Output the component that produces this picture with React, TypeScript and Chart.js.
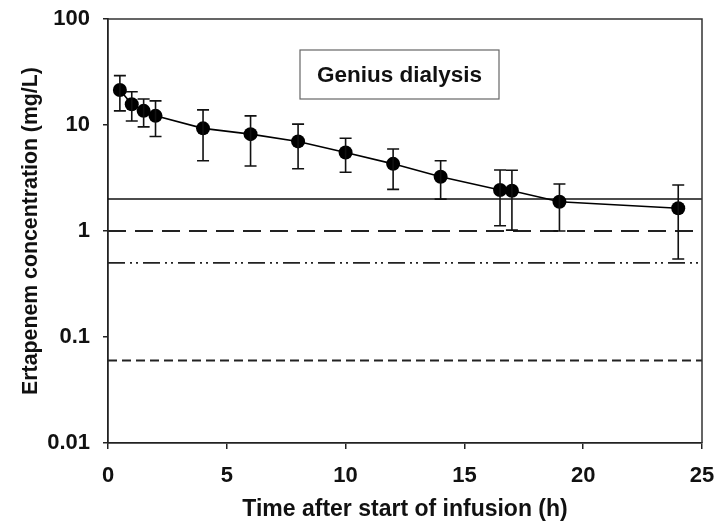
import React, { useEffect, useRef } from "react";
import { Chart, registerables } from "chart.js";

Chart.register(...registerables);

// Sampling times (h)
const timeH = [0.5, 1, 1.5, 2, 4, 6, 8, 10, 12, 14, 16.5, 17, 19, 24];
// Mean ertapenem concentration (mg/L)
const concMean = [21.4, 15.7, 13.6, 12.2, 9.3, 8.2, 7.0, 5.5, 4.3, 3.25, 2.44, 2.4, 1.89, 1.64];
// Upper / lower error bar ends (mg/L)
const concUpper = [29.2, 20.6, 17.6, 16.9, 13.9, 12.2, 10.2, 7.5, 5.94, 4.6, 3.76, 3.74, 2.78, 2.72];
const concLower = [13.6, 10.9, 9.6, 7.8, 4.6, 4.1, 3.87, 3.58, 2.47, 2.0, 1.12, 1.02, 1.0, 0.544];

// Horizontal reference levels (mg/L)
const refLevels = [2, 1, 0.5, 0.06];
const refDashes: number[][] = [[], [18, 9], [17, 5, 2, 4, 2, 5], [9, 5]];

const xTicks = [0, 5, 10, 15, 20, 25];
const yTicks = [0.01, 0.1, 1, 10, 100];
const boxLabel = "Genius dialysis";

const FONT = "'Liberation Sans', Arial, Helvetica, sans-serif";

const errorBarPlugin = {
  id: "errorBars",
  afterDatasetsDraw(chart: any) {
    const { ctx, scales } = chart;
    const x = scales.x;
    const y = scales.y;
    ctx.save();
    ctx.strokeStyle = "#111";
    ctx.lineWidth = 1.6;
    const cap = 6;
    timeH.forEach((t, i) => {
      const px = x.getPixelForValue(t);
      const top = y.getPixelForValue(concUpper[i]);
      const bot = y.getPixelForValue(concLower[i]);
      ctx.beginPath();
      ctx.moveTo(px, top);
      ctx.lineTo(px, bot);
      ctx.moveTo(px - cap, top);
      ctx.lineTo(px + cap, top);
      ctx.moveTo(px - cap, bot);
      ctx.lineTo(px + cap, bot);
      ctx.stroke();
    });
    ctx.restore();
  },
};

const framePlugin = {
  id: "frameAndBox",
  afterDraw(chart: any) {
    const { ctx, chartArea } = chart;
    ctx.save();
    ctx.strokeStyle = "#333";
    ctx.lineWidth = 1.5;
    ctx.beginPath();
    ctx.moveTo(chartArea.left, chartArea.top);
    ctx.lineTo(chartArea.right, chartArea.top);
    ctx.lineTo(chartArea.right, chartArea.bottom);
    ctx.stroke();
    // label box
    const bx = chartArea.left + 192;
    const by = chartArea.top + 31;
    const bw = 199;
    const bh = 49;
    ctx.strokeStyle = "#666";
    ctx.lineWidth = 1.2;
    ctx.strokeRect(bx, by, bw, bh);
    ctx.fillStyle = "#111";
    ctx.font = `bold 22.5px ${FONT}`;
    ctx.textAlign = "center";
    ctx.textBaseline = "middle";
    ctx.fillText(boxLabel, bx + bw / 2, by + bh / 2 + 1);
    ctx.restore();
  },
};

const zeroPad = (s: any) => {
  s.paddingLeft = 0;
  s.paddingRight = 0;
  s.paddingTop = 0;
  s.paddingBottom = 0;
};

export default function App() {
  const ref = useRef<HTMLCanvasElement | null>(null);

  useEffect(() => {
    if (!ref.current) return;
    const refDatasets = refLevels.map((lv, i) => ({
      type: "line" as const,
      data: [
        { x: 0, y: lv },
        { x: 25, y: lv },
      ],
      borderColor: i === 0 ? "#111" : "#222",
      borderWidth: i === 0 ? 1.5 : 1.8,
      borderDash: refDashes[i],
      pointRadius: 0,
      fill: false,
      order: 2,
    }));
    const chart = new Chart(ref.current, {
      type: "line",
      data: {
        datasets: [
          {
            data: timeH.map((t, i) => ({ x: t, y: concMean[i] })),
            borderColor: "#000",
            backgroundColor: "#000",
            borderWidth: 1.6,
            pointRadius: 7,
            pointBackgroundColor: "#000",
            pointBorderColor: "#000",
            pointBorderWidth: 0,
            fill: false,
            order: 1,
          },
          ...refDatasets,
        ],
      },
      options: {
        animation: false,
        responsive: true,
        maintainAspectRatio: false,
        layout: { padding: { top: 19, right: 13, left: 0, bottom: 0 } },
        plugins: {
          legend: { display: false },
          tooltip: { enabled: false },
        },
        scales: {
          x: {
            type: "linear",
            min: 0,
            max: 25,
            afterBuildTicks: (s: any) => {
              s.ticks = xTicks.map((v) => ({ value: v }));
            },
            afterFit: (s: any) => {
              s.height = 80;
              zeroPad(s);
            },
            grid: {
              display: true,
              drawOnChartArea: false,
              drawTicks: true,
              tickLength: 6,
              color: "#222",
              lineWidth: 1.5,
            },
            border: { display: true, color: "#222", width: 1.8 },
            ticks: {
              color: "#111",
              font: { family: FONT, size: 22, weight: "bold" },
              padding: 14,
              maxRotation: 0,
            },
            title: {
              display: true,
              text: "Time after start of infusion (h)",
              color: "#111",
              font: { family: FONT, size: 23, weight: "bold" },
              padding: { top: 0, bottom: 0 },
            },
          },
          y: {
            type: "logarithmic",
            min: 0.01,
            max: 100,
            afterBuildTicks: (s: any) => {
              s.ticks = yTicks.map((v) => ({ value: v }));
            },
            afterFit: (s: any) => {
              s.width = 108;
              zeroPad(s);
            },
            grid: {
              display: true,
              drawOnChartArea: false,
              drawTicks: true,
              tickLength: 5,
              color: "#222",
              lineWidth: 1.5,
            },
            border: { display: true, color: "#222", width: 1.8 },
            ticks: {
              color: "#111",
              font: { family: FONT, size: 22, weight: "bold" },
              padding: 13,
              callback: (v: any) => String(v),
            },
            title: {
              display: true,
              text: "Ertapenem concentration (mg/L)",
              color: "#111",
              font: { family: FONT, size: 21.3, weight: "bold" },
              padding: { top: 18, bottom: 0 },
            },
          },
        },
      },
      plugins: [errorBarPlugin, framePlugin],
    });
    return () => chart.destroy();
  }, []);

  return (
    <div style={{ position: "fixed", left: 0, top: 0, width: 715, height: 523, background: "#fff" }}>
      <canvas ref={ref} />
    </div>
  );
}
